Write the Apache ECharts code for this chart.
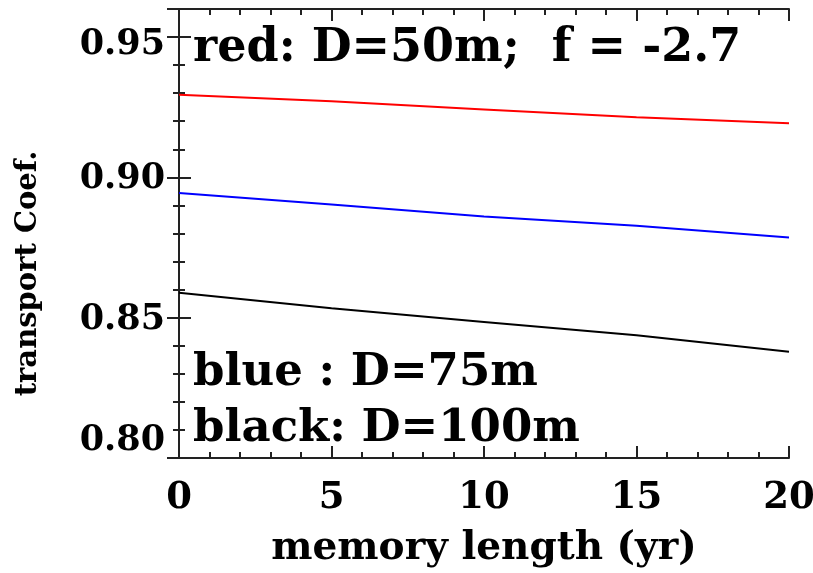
<!DOCTYPE html>
<html>
<head>
<meta charset="utf-8">
<script src="https://cdn.jsdelivr.net/npm/echarts@6/dist/echarts.min.js"></script>
<style>html,body{margin:0;padding:0;background:#fff}#c{width:813px;height:573px}</style>
</head>
<body>
<div id="c"></div>
<script>
var years = [0, 5, 10, 15, 20];
var redD50 = [0.9294, 0.9271, 0.9242, 0.9214, 0.9193];
var blueD75 = [0.8944, 0.8903, 0.8861, 0.8828, 0.8786];
var blackD100 = [0.8589, 0.8534, 0.8485, 0.8437, 0.8379];
var yTicks = [0.80, 0.85, 0.90, 0.95];
var xTitle = 'memory length (yr)';
var yTitle = 'transport Coef.';
var notes = ['red: D=50m;  f = -2.7', 'blue : D=75m', 'black: D=100m'];

var FONT = 'DejaVu Serif';
function pairs(v) { return years.map(function (x, i) { return [x, v[i]]; }); }

function axisLine() { return { show: true, lineStyle: { color: '#222', width: 2 } }; }
function tickMajor() { return { show: true, inside: true, length: 12, lineStyle: { color: '#222', width: 2 } }; }
function tickMinor() { return { show: true, splitNumber: 5, length: 6, lineStyle: { color: '#222', width: 2 } }; }

var chart = echarts.init(document.getElementById('c'));
chart.setOption({
  animation: false,
  backgroundColor: '#fff',
  grid: { left: 179, right: 24, top: 9, bottom: 115, containLabel: false, outerBoundsMode: 'none' },
  xAxis: [{
    type: 'value', min: 0, max: 20, interval: 5, position: 'bottom',
    axisLine: axisLine(), axisTick: tickMajor(), minorTick: tickMinor(),
    splitLine: { show: false },
    axisLabel: { color: '#000', fontFamily: FONT, fontWeight: 'bold', fontSize: 37, margin: 22 },
    name: xTitle, nameLocation: 'middle', nameGap: 71,
    nameTextStyle: { color: '#000', fontFamily: FONT, fontWeight: 'bold', fontSize: 39 }
  }, {
    type: 'value', min: 0, max: 20, interval: 5, position: 'top',
    axisLine: axisLine(), axisTick: tickMajor(), minorTick: tickMinor(),
    splitLine: { show: false }, axisLabel: { show: false }
  }],
  yAxis: [{
    type: 'value', min: 0.80, max: 0.96, interval: 0.05, position: 'left',
    axisLine: axisLine(), axisTick: tickMajor(), minorTick: tickMinor(),
    splitLine: { show: false },
    axisLabel: {
      color: '#000', fontFamily: FONT, fontWeight: 'bold', fontSize: 35, margin: 14, showMaxLabel: false,
      formatter: function (v) {
        if (Math.abs(v - yTicks[0]) < 1e-6) return '{lo|' + yTicks[0].toFixed(2) + '}';
        if (Math.abs(v - yTicks[3]) < 1e-6) return '{hi|' + yTicks[3].toFixed(2) + '}';
        for (var i = 0; i < yTicks.length; i++) if (Math.abs(v - yTicks[i]) < 1e-6) return '{md|' + yTicks[i].toFixed(2) + '}';
        return '';
      },
      rich: {
        lo: { fontFamily: FONT, fontWeight: 'bold', fontSize: 35, color: '#000', padding: [0, 0, 34, 0] },
        hi: { fontFamily: FONT, fontWeight: 'bold', fontSize: 35, color: '#000', padding: [16, 0, 0, 0] },
        md: { fontFamily: FONT, fontWeight: 'bold', fontSize: 35, color: '#000', padding: [4, 0, 0, 0] }
      }
    },
    name: yTitle, nameLocation: 'middle', nameGap: 136, nameRotate: 90,
    nameTextStyle: { color: '#000', fontFamily: FONT, fontWeight: 'bold', fontSize: 29, padding: [0, 80, 0, 0] }
  }, {
    type: 'value', min: 0.80, max: 0.96, interval: 0.05, position: 'right',
    axisLine: axisLine(), axisTick: tickMajor(), minorTick: tickMinor(),
    splitLine: { show: false }, axisLabel: { show: false }
  }],
  series: [
    { type: 'line', data: pairs(redD50), symbol: 'none', lineStyle: { color: '#ff0000', width: 2 }, silent: true },
    { type: 'line', data: pairs(blueD75), symbol: 'none', lineStyle: { color: '#0000ff', width: 2 }, silent: true },
    { type: 'line', data: pairs(blackD100), symbol: 'none', lineStyle: { color: '#000000', width: 2 }, silent: true }
  ],
  graphic: [
    { type: 'text', left: 193, top: 26, style: { text: notes[0], fill: '#000', font: 'bold 46px "DejaVu Serif"' } },
    { type: 'text', left: 193, top: 351, style: { text: notes[1], fill: '#000', font: 'bold 45px "DejaVu Serif"' } },
    { type: 'text', left: 193, top: 407, style: { text: notes[2], fill: '#000', font: 'bold 45px "DejaVu Serif"' } }
  ]
});
</script>
</body>
</html>
